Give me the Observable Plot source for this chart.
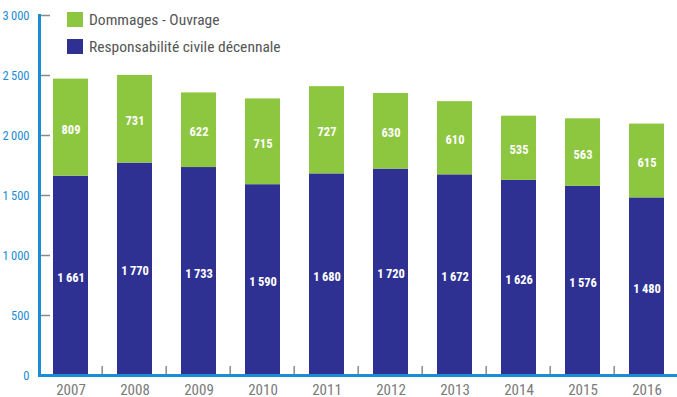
<!DOCTYPE html>
<html><head><meta charset="utf-8">
<script src="https://cdn.jsdelivr.net/npm/d3@7"></script>
<script src="https://cdn.jsdelivr.net/npm/@observablehq/plot@0.6"></script>
<style>
body{margin:0;background:#fff;}
#wrap{position:relative;width:677px;height:397px;font-family:"Roboto Condensed",sans-serif;}
#wrap svg{position:absolute;left:0;top:0;}
#legend{position:absolute;left:67px;top:7px;font-size:15.5px;color:#555;line-height:27px;z-index:2;}
#legend .sw{display:inline-block;width:16px;height:15px;vertical-align:-2px;margin-right:6px;}
</style></head>
<body><div id="wrap"><div id="legend"></div></div>
<script>
const years = ["2007","2008","2009","2010","2011","2012","2013","2014","2015","2016"];
const rcd = [1661,1770,1733,1590,1680,1720,1672,1626,1576,1480];
const dommages = [809,731,622,715,727,630,610,535,563,615];
const seriesNames = ["Dommages - Ouvrage","Responsabilité civile décennale"];
const seriesColors = ["#8dc63f","#2e3192"];
const yTicks = [0,500,1000,1500,2000,2500,3000];

const fmt = d3.formatLocale({decimal:",",thousands:"\u2009",grouping:[3],currency:["","€"]}).format(",d");

const data = [];
years.forEach((y,i)=>{
  data.push({year:y, series:seriesNames[1], value:rcd[i], order:0});
  data.push({year:y, series:seriesNames[0], value:dommages[i], order:1});
});

const W=677,H=397, mL=36, mR=0;
const x0=36,x1=680.4;
const step=(x1-x0)/years.length;
const frameW = W-mL-mR;
const font='"Roboto Condensed",sans-serif';

const chart = Plot.plot({
  width:W, height:H,
  marginTop:15, marginBottom:22, marginLeft:mL, marginRight:mR,
  style:{fontFamily:font, background:"transparent"},
  x:{domain:years, range:[x0,x1], paddingInner:0.456, paddingOuter:0.228, axis:null},
  y:{domain:[0,3000], axis:null},
  color:{domain:seriesNames, range:seriesColors},
  marks:[
    Plot.barY(data, Plot.stackY({x:"year", y:"value", fill:"series", order:"order"})),
    Plot.text(data, Plot.stackY({x:"year", y:"value", z:"series", order:"order", text:d=>fmt(d.value), fill:"white", fontWeight:"bold", fontSize:12.5, dy:2})),
    Plot.tickY(yTicks, {y:d=>d, stroke:"#8a8a8a", strokeWidth:1.5, insetLeft:4, insetRight:frameW-14}),
    Plot.text(yTicks, {y:d=>d, frameAnchor:"left", dx:-7, text:d=>fmt(d), textAnchor:"end", fill:"#1b8dd6", fontSize:12.5}),
    Plot.text(years, {x:d=>d, frameAnchor:"bottom", dy:19, text:d=>d, fill:"#7a7a7a", fontSize:15}),
    Plot.ruleX(years.slice(0,-1), {x:d=>d, dx:step/2 - 1, y1:0, y2:75, stroke:"#8a8a8a", strokeWidth:1.5}),
    Plot.ruleY([0], {stroke:"#1b8dd6", strokeWidth:3, insetLeft:2}),
    Plot.frame({anchor:"left", stroke:"#1b8dd6", strokeWidth:3, dx:3})
  ]
});
document.getElementById("wrap").appendChild(chart);
const lg=document.getElementById("legend");
lg.innerHTML = seriesNames.map((n,i)=>`<div><span class="sw" style="background:${seriesColors[i]}"></span>${n}</div>`).join("");
</script></body></html>
